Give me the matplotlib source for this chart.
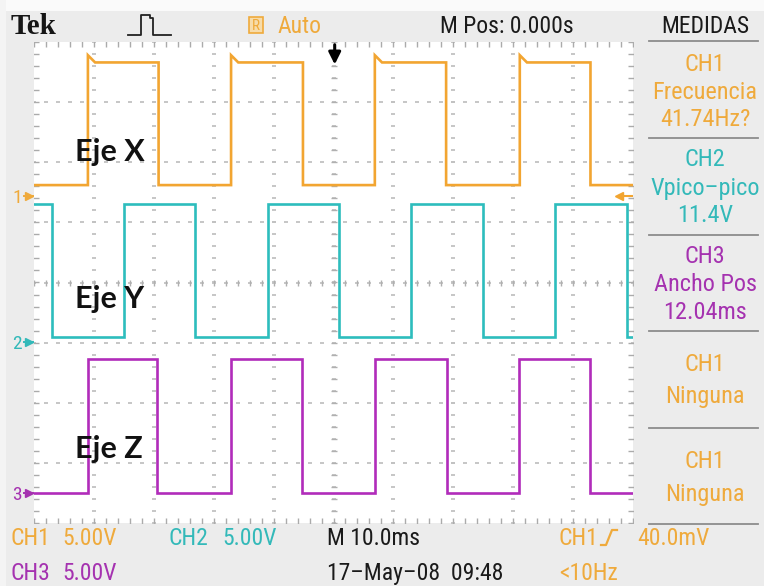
import matplotlib
matplotlib.use("Agg")
import matplotlib.pyplot as plt
import numpy as np
from matplotlib.lines import Line2D
from matplotlib.patches import Rectangle

# ---------------- waveform data ----------------
# edge times in ms (alternating transitions), levels in volts
ch1_edges_ms = [-41.0, -29.2, -17.1, -5.1, 6.9, 18.8, 31.1, 42.9]
ch1_start_high = False
ch1_levels_v = [0.9, 11.1]          # low, high
ch1_overshoot_v = 0.6

ch2_edges_ms = [-47.0, -35.0, -23.1, -11.0, 0.9, 12.9, 25.0, 37.0, 49.0]
ch2_start_high = True
ch2_levels_v = [0.4, 11.5]

ch3_edges_ms = [-41.0, -29.4, -17.1, -5.2, 6.9, 18.9, 30.9, 42.9]
ch3_start_high = False
ch3_levels_v = [0.0, 11.1]

# vertical setup: ground position (divisions from centre) and scale
ch_ground_div = [1.44, -0.99, -3.50]
ch_volts_per_div = [5.0, 5.0, 5.0]
ms_per_div = 10.0

# measurement panel and readouts
panel_blocks = [
    ("CH1", "Frecuencia", "41.74Hz?"),
    ("CH2", "Vpico\u2013pico", "11.4V"),
    ("CH3", "Ancho Pos", "12.04ms"),
    ("CH1", "Ninguna", None),
    ("CH1", "Ninguna", None),
]
axis_labels = ["Eje X", "Eje Y", "Eje Z"]

C_ORANGE = "#f2a531"
C_TEAL = "#2dbdbd"
C_PURPLE = "#b12cba"
T_ORANGE = "#efaa3c"
T_TEAL = "#33b9b9"
T_PURPLE = "#a532b0"
block_colors = [T_ORANGE, T_TEAL, T_PURPLE, T_ORANGE, T_ORANGE]

W, H = 764, 586
fig = plt.figure(figsize=(W / 100, H / 100), dpi=100, facecolor="#ececec")


def P(px, py):
    return px / W, 1 - py / H


NARROW = ["Liberation Sans Narrow", "DejaVu Sans Condensed",
          "Roboto Condensed", "Open Sans Condensed", "Roboto", "DejaVu Sans"]
SKW = dict(family=NARROW, fontstretch="condensed")
FS = 17

# light margins at top / left
fig.patches.append(Rectangle(P(0, 11), 1, 11 / H, transform=fig.transFigure,
                             facecolor="#fafafa", edgecolor="none", zorder=0))
fig.patches.append(Rectangle((0, 0), 6 / W, 1, transform=fig.transFigure,
                             facecolor="#f4f4f4", edgecolor="none", zorder=0))

# ---------------- graticule ----------------
x0, y0, x1, y1 = 34, 42, 633, 523
ax = fig.add_axes([x0 / W, 1 - y1 / H, (x1 - x0) / W, (y1 - y0) / H])
ax.set_facecolor("white")
ax.set_xlim(-5 * ms_per_div, 5 * ms_per_div)
ax.set_ylim(-4, 4)
for s in ax.spines.values():
    s.set_visible(False)
ax.set_xticks([])
ax.set_yticks([])

gcol = "#c2c2c2"
minor_t = np.arange(-50, 50.01, 2.0)
minor_v = np.arange(-4, 4.001, 0.2)
for gx in np.arange(-40, 41, 10):
    ax.plot(np.full_like(minor_v, gx), minor_v, ls="none", marker="_",
            ms=2.5, mew=1.3, color=gcol, zorder=1)
for gy in np.arange(-3, 4, 1):
    ax.plot(minor_t, np.full_like(minor_t, gy), ls="none", marker="_",
            ms=2.5, mew=1.3, color=gcol, zorder=1)
# centre cross ticks
ax.plot(np.zeros_like(minor_v), minor_v, ls="none", marker="_", ms=5,
        mew=1.0, color="#b0b0b0", zorder=1)
ax.plot(minor_t, np.zeros_like(minor_t), ls="none", marker="|", ms=5,
        mew=1.0, color="#b0b0b0", zorder=1)
# border ticks
for bx in (-50, 50):
    ax.plot(np.full_like(minor_v, bx), minor_v, ls="none", marker="_", ms=7,
            mew=1.0, color="#ababab", zorder=1)
for by in (-4, 4):
    ax.plot(minor_t, np.full_like(minor_t, by), ls="none", marker="|", ms=7,
            mew=1.0, color="#ababab", zorder=1)


# ---------------- traces ----------------
def square_wave(edges, start_high, levels, overshoot=0.0):
    lo, hi = levels
    state = start_high
    t = [-50.0]
    v = [hi if state else lo]
    for e in edges:
        if state:
            t += [e, e]
            v += [hi, lo]
        else:
            t += [e, e, e + 1.2]
            v += [lo, hi + overshoot, hi]
        state = not state
    t.append(50.0)
    v.append(hi if state else lo)
    return np.array(t), np.array(v)


traces = [
    (ch1_edges_ms, ch1_start_high, ch1_levels_v, ch1_overshoot_v, C_ORANGE),
    (ch2_edges_ms, ch2_start_high, ch2_levels_v, 0.0, C_TEAL),
    (ch3_edges_ms, ch3_start_high, ch3_levels_v, 0.0, C_PURPLE),
]
for i, (edges, sh, lv, os_, col) in enumerate(traces):
    t, v = square_wave(edges, sh, lv, os_)
    ax.plot(t, ch_ground_div[i] + v / ch_volts_per_div[i], color=col,
            lw=1.9, solid_joinstyle="miter", zorder=3)

# trigger position arrow
ax.annotate("", xy=(0.2, 3.58), xytext=(0.2, 4.0),
            arrowprops=dict(arrowstyle="-|>", color="black", lw=2.2,
                            mutation_scale=18), zorder=5)
# trigger level marker (right edge)
trig_div = ch_ground_div[0]
ax.plot([47.6, 50], [trig_div, trig_div], color=C_ORANGE, lw=1.5, zorder=4)
ax.plot([47.6], [trig_div], marker="<", ms=6, color=C_ORANGE, zorder=4)

# axis labels on the traces
label_rows = [150, 297, 447]
for lab, py in zip(axis_labels, label_rows):
    fig.text(*P(75, py + 11), lab, family=["Lato", "DejaVu Sans"],
             weight="bold", fontsize=22, color="#111111", ha="left",
             va="baseline", zorder=6)

# ground markers on the left
gnd_cols = [T_ORANGE, T_TEAL, T_PURPLE]
gnd_rows = [196, 342, 493]
for i, (py, col) in enumerate(zip(gnd_rows, gnd_cols)):
    fig.text(*P(17, py + 7), str(i + 1), fontsize=14, color=col,
             ha="center", va="baseline", **SKW)
    fig.lines.append(Line2D([24 / W, 33 / W], [1 - py / H] * 2,
                            transform=fig.transFigure, color=col, lw=1.4))
    fig.lines.append(Line2D([29 / W], [1 - py / H], transform=fig.transFigure,
                            marker=">", ms=6, color=col))

# ---------------- header ----------------
fig.text(*P(11, 34), "Tek", family=["Liberation Serif", "DejaVu Serif"],
         weight="bold", fontsize=21, color="#151515", ha="left",
         va="baseline")
icon_x = [128, 141, 141, 150, 150, 153, 153, 157, 157, 171]
icon_y = [35, 35, 15, 15, 18, 18, 35, 35, 35, 35]
fig.lines.append(Line2D([x / W for x in icon_x], [1 - y / H for y in icon_y],
                        transform=fig.transFigure, color="#222222", lw=1.3))
fig.patches.append(Rectangle(P(249, 33), 14 / W, 16 / H,
                             transform=fig.transFigure, facecolor="#f7dcaa",
                             edgecolor=T_ORANGE, lw=1.2))
fig.text(*P(256, 30), "R", fontsize=11, color=T_ORANGE, ha="center",
         va="baseline", **SKW)
fig.text(*P(278, 33), "Auto", fontsize=FS, color=T_ORANGE, ha="left",
         va="baseline", **SKW)
fig.text(*P(440, 33), "M Pos: 0.000s", fontsize=FS, color="#1a1a1a",
         ha="left", va="baseline", **SKW)
fig.text(*P(705, 33), "MEDIDAS", fontsize=FS, color="#1a1a1a", ha="center",
         va="baseline", **SKW)

# ---------------- measurement panel ----------------
sep_rows = [41, 138, 235, 331, 428, 524]
for py in sep_rows:
    fig.lines.append(Line2D([649 / W, 758 / W], [1 - py / H] * 2,
                            transform=fig.transFigure, color="#8c8c8c",
                            lw=1.3))
block_lines = [
    [63, 91, 118],
    [158, 187, 214],
    [255, 283, 311],
    [363, 395],
    [460, 493],
]
for (a, b, c), rows, col in zip(panel_blocks, block_lines, block_colors):
    txts = [a, b] + ([c] if c else [])
    for s, py in zip(txts, rows):
        fig.text(*P(705, py + 8), s, fontsize=FS + 0.5, color=col,
                 ha="center", va="baseline", **SKW)

# ---------------- footer ----------------
r1, r2 = 545, 580
footer = [
    (10, r1, "CH1", T_ORANGE), (62, r1, "5.00V", T_ORANGE),
    (168, r1, "CH2", T_TEAL), (222, r1, "5.00V", T_TEAL),
    (327, r1, "M 10.0ms", "#1a1a1a"), (559, r1, "CH1", T_ORANGE),
    (637, r1, "40.0mV", T_ORANGE),
    (10, r2, "CH3", T_PURPLE), (62, r2, "5.00V", T_PURPLE),
    (327, r2, "17\u2013May\u201308  09:48", "#1a1a1a"),
    (559, r2, "<10Hz", T_ORANGE),
]
for px, py, s, col in footer:
    fig.text(*P(px, py), s, fontsize=FS, color=col, va="baseline", **SKW)
slope_x = [601, 606, 612, 617]
slope_y = [545, 545, 530, 530]
fig.lines.append(Line2D([x / W for x in slope_x], [1 - y / H for y in slope_y],
                        transform=fig.transFigure, color=T_ORANGE, lw=1.6))

fig.savefig("out.png", dpi=100, facecolor=fig.get_facecolor())
